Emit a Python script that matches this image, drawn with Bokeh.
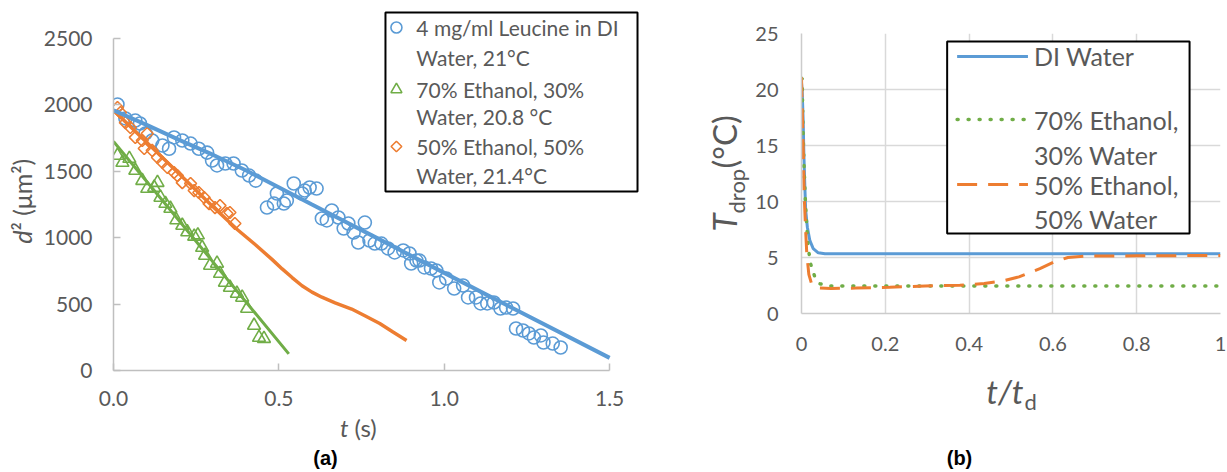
import math
from bokeh.plotting import figure
from bokeh.models import Range1d, FixedTicker, Label, NumeralTickFormatter
from bokeh.layouts import row, column
from bokeh.embed import file_html
from bokeh.resources import INLINE

# ---------------- data: panel (a) ----------------
t_leu = [0.012, 0.036, 0.066, 0.080, 0.097, 0.117, 0.148, 0.168, 0.183, 0.208, 0.233, 0.258,
         0.283, 0.298, 0.313, 0.338, 0.363, 0.388, 0.410, 0.430, 0.464, 0.485, 0.494, 0.515,
         0.524, 0.545, 0.570, 0.578, 0.593, 0.614, 0.630, 0.645, 0.660, 0.680, 0.696, 0.710,
         0.726, 0.740, 0.760, 0.774, 0.790, 0.810, 0.830, 0.850, 0.876, 0.895, 0.900, 0.916,
         0.925, 0.940, 0.960, 0.976, 0.985, 1.006, 1.030, 1.057, 1.072, 1.096, 1.110, 1.130,
         1.150, 1.170, 1.187, 1.208, 1.217, 1.238, 1.256, 1.271, 1.292, 1.300, 1.328, 1.352]
d2_leu = [2003, 1898, 1882, 1860, 1785, 1732, 1694, 1670, 1755, 1732, 1709, 1670,
          1641, 1581, 1544, 1559, 1559, 1506, 1468, 1430, 1227, 1257, 1333, 1257,
          1280, 1408, 1333, 1355, 1378, 1370, 1145, 1130, 1205, 1152, 1069, 1107,
          1039, 964, 1114, 979, 956, 956, 919, 889, 904, 881, 806, 828,
          828, 776, 768, 753, 663, 693, 617, 640, 550, 550, 505, 505,
          512, 467, 474, 467, 316, 301, 279, 248, 264, 211, 203, 173]

t_e70 = [0.012, 0.027, 0.048, 0.066, 0.087, 0.102, 0.123, 0.133, 0.142, 0.157, 0.172, 0.190,
         0.208, 0.223, 0.244, 0.255, 0.268, 0.277, 0.292, 0.313, 0.322, 0.337, 0.352, 0.373,
         0.389, 0.404, 0.425, 0.440, 0.455]
d2_e70 = [1619, 1566, 1596, 1506, 1430, 1370, 1378, 1415, 1303, 1257, 1220, 1133,
          1092, 1043, 1010, 1020, 926, 866, 791, 806, 730, 663, 625, 580,
          550, 467, 339, 248, 240]

t_e50 = [0.012, 0.021, 0.036, 0.051, 0.066, 0.087, 0.093, 0.102, 0.117, 0.133, 0.148, 0.163,
         0.183, 0.193, 0.208, 0.233, 0.244, 0.258, 0.274, 0.289, 0.307, 0.322, 0.343, 0.352,
         0.367]
d2_e50 = [1980, 1943, 1867, 1830, 1755, 1732, 1672, 1785, 1657, 1604, 1566, 1529,
          1491, 1468, 1415, 1408, 1355, 1340, 1303, 1257, 1227, 1242, 1182, 1190,
          1107]

# model curves
tm_leu = [0.0, 0.1, 0.2, 0.3, 0.4, 0.6, 0.8, 1.0, 1.2, 1.5]
dm_leu = [1960, 1850, 1735, 1625, 1508, 1250, 993, 735, 478, 95]
tm_e70 = [0.0, 0.15, 0.3, 0.53]
dm_e70 = [1725, 1275, 820, 125]
tm_e50 = [0.0, 0.1, 0.2, 0.3, 0.375, 0.43, 0.48, 0.51, 0.54, 0.57, 0.60, 0.63, 0.67,
          0.72, 0.76, 0.805, 0.845, 0.886]
dm_e50 = [1960, 1718, 1477, 1235, 1060, 945, 835, 765, 700, 638, 590, 552, 510,
          463, 412, 354, 290, 226]

x_ticks_a = [0, 0.5, 1.0, 1.5]
y_ticks_a = [0, 500, 1000, 1500, 2000, 2500]

leg_a = ["4 mg/ml Leucine in DI", "Water, 21°C",
         "70% Ethanol, 30%", "Water, 20.8 °C",
         "50% Ethanol, 50%", "Water, 21.4°C"]

# ---------------- data: panel (b) ----------------
tb_w = [0.0, 0.0016, 0.004, 0.0056, 0.008, 0.010, 0.014, 0.020, 0.028, 0.040, 0.056, 0.1, 0.3, 0.5, 0.7, 0.9, 1.0]
Tb_w = [20.6, 19.9, 17.2, 14.3, 11.3, 9.2, 7.7, 6.5, 5.8, 5.42, 5.33, 5.33, 5.33, 5.33, 5.33, 5.33, 5.33]
tb_70 = [0.0, 0.0016, 0.0024, 0.004, 0.0064, 0.0095, 0.0127, 0.016, 0.022, 0.032, 0.044, 0.067, 0.2, 0.4, 0.6, 0.8, 1.0]
Tb_70 = [21.0, 21.0, 18.75, 15.7, 12.8, 9.8, 7.7, 5.9, 4.4, 3.24, 2.65, 2.46, 2.46, 2.46, 2.46, 2.46, 2.46]
tb_50 = [0.0, 0.0024, 0.0048, 0.0063, 0.0095, 0.0127, 0.0175, 0.024, 0.036, 0.071, 0.13, 0.21, 0.295,
         0.378, 0.436, 0.478, 0.519, 0.569, 0.602, 0.636, 0.677, 0.8, 1.0]
Tb_50 = [21.1, 17.2, 13.7, 10.7, 7.7, 5.3, 3.5, 2.65, 2.29, 2.24, 2.27, 2.35, 2.45,
         2.53, 2.68, 2.89, 3.27, 4.0, 4.6, 5.0, 5.12, 5.15, 5.18]

x_ticks_b = [0, 0.2, 0.4, 0.6, 0.8, 1]
x_labels_b = ["0", "0.2", "0.4", "0.6", "0.8", "1"]
y_ticks_b = [0, 5, 10, 15, 20, 25]
leg_b = ["DI Water", "70% Ethanol,", "30% Water", "50% Ethanol,", "50% Water"]

BLUE = "#5B9BD5"
ORANGE = "#ED7D31"
GREEN = "#70AD47"
TXT = "#595959"
FONT = "Lato"
MID = 0.387   # distance (in em) from the text baseline to the centre of its box


def strip(ox, oy, w, h):
    """A blank figure whose data coordinates equal page pixel coordinates."""
    f = figure(width=w, height=h, title=None, x_axis_type=None, y_axis_type=None,
               x_range=Range1d(ox, ox + w), y_range=Range1d(oy + h, oy),
               output_backend="svg", toolbar_location=None, min_border=0)
    f.outline_line_color = None
    f.grid.visible = False
    f.frame_align = False
    return f


def lab(fig, x, y, text, size, align="left", baseline="middle", style="normal",
        angle=0.0, font=FONT, color=TXT):
    fig.add_layout(Label(x=x, y=y, text=text, text_font=font, text_font_size="%dpx" % size,
                         text_font_style=style, text_color=color, text_align=align,
                         text_baseline=baseline, angle=angle))


def hlab(fig, x, base_y, text, size, **kw):
    """horizontal text whose baseline sits at base_y"""
    lab(fig, x, base_y - MID * size, text, size, **kw)


def vlab(fig, base_x, y, text, size, **kw):
    """text rotated 90 deg whose baseline sits at base_x"""
    lab(fig, base_x - MID * size, y, text, size, angle=math.pi / 2, **kw)


# ================= panel (a) =================
A_OX = 40
A_W, A_H = 668 - A_OX, 412
A_FL, A_FT, A_FB, A_FR = 111, 10, 370, 641      # frame edges in page px
A_PX = 332.0            # px per second
A_PY = 332.0 / 2500.0   # px per um^2


def ax(ix):
    return (ix - A_FL) / A_PX


def ay(iy):
    return (A_FB - iy) / A_PY


p1 = figure(width=A_W, height=A_H, title=None,
            x_range=Range1d(0, (A_FR - A_FL) / A_PX), y_range=Range1d(0, (A_FB - A_FT) / A_PY),
            output_backend="svg", toolbar_location=None,
            min_border_left=A_FL - A_OX, min_border_right=A_OX + A_W - A_FR,
            min_border_top=A_FT, min_border_bottom=A_H - A_FB)
p1.frame_align = False
p1.outline_line_color = None
p1.grid.visible = False
for a in (p1.xaxis[0], p1.yaxis[0]):
    a.axis_line_color = "#BFBFBF"
    a.axis_line_width = 1.5
    a.major_tick_line_color = "#BFBFBF"
    a.major_tick_line_width = 1.5
    a.major_tick_in = 7
    a.major_tick_out = 0
    a.minor_tick_line_color = None
    a.major_label_text_font = FONT
    a.major_label_text_font_size = "21px"
    a.major_label_text_color = TXT
p1.xaxis.ticker = FixedTicker(ticks=x_ticks_a)
p1.yaxis.ticker = FixedTicker(ticks=y_ticks_a)
p1.xaxis.formatter = NumeralTickFormatter(format="0.0")
p1.xaxis.bounds = (0, 1.5)
p1.yaxis.bounds = (0, 2500)
p1.xaxis.major_label_standoff = 20
p1.yaxis.major_label_standoff = 21

p1.scatter(t_leu, d2_leu, marker="circle", size=13, fill_color=None, line_color=BLUE, line_width=1.6)
p1.scatter(t_e70, d2_e70, marker="triangle", size=13, fill_color=None, line_color=GREEN, line_width=1.6)
p1.scatter(t_e50, d2_e50, marker="square", angle=math.pi / 4, size=8.5, fill_color=None,
           line_color=ORANGE, line_width=1.6)
p1.line(tm_e70, dm_e70, line_color=GREEN, line_width=3)
p1.line(tm_e50, dm_e50, line_color=ORANGE, line_width=3.5)
p1.line(tm_leu, dm_leu, line_color=BLUE, line_width=4)

# legend (a)
p1.quad(left=ax(384), right=ax(637), top=ay(12), bottom=ay(191),
        fill_color="white", line_color="black", line_width=2)
p1.scatter([ax(395)], [ay(27)], marker="circle", size=11, fill_color=None, line_color=BLUE, line_width=1.6)
p1.scatter([ax(395)], [ay(89)], marker="triangle", size=11, fill_color=None, line_color=GREEN, line_width=1.6)
p1.scatter([ax(395)], [ay(146)], marker="square", angle=math.pi / 4, size=7.5, fill_color=None,
           line_color=ORANGE, line_width=1.6)
for txt, iy in zip(leg_a, [27, 57, 89, 116, 146, 175]):
    lab(p1, ax(415), ay(iy), txt, 21)

# side strips for (a)
yA = strip(0, 0, A_OX, A_H)
vlab(yA, 31, 230, "d", 25, align="right", style="italic")
vlab(yA, 31, 230, "² (μm²)", 25, align="left")

xA = strip(0, A_H, 668, 470 - A_H)
hlab(xA, 348, 436, "t", 24, align="right", style="italic")
hlab(xA, 354, 436, "(s)", 24, align="left")
lab(xA, 325, 457, "(a)", 20, align="center", style="bold", font="Liberation Sans", color="black")

# ================= panel (b) =================
B_OX = 752
B_W, B_H = 1227 - B_OX, 360
B_FL, B_FT, B_FB, B_FR = 800, 33, 313, 1220
B_PX = float(B_FR - B_FL)
B_PY = (B_FB - B_FT) / 25.0


def bx(ix):
    return (ix - B_FL) / B_PX


def by(iy):
    return (B_FB - iy) / B_PY


p2 = figure(width=B_W, height=B_H, title=None,
            x_range=Range1d(0, 1), y_range=Range1d(0, 25),
            output_backend="svg", toolbar_location=None,
            min_border_left=B_FL - B_OX, min_border_right=B_OX + B_W - B_FR,
            min_border_top=B_FT, min_border_bottom=B_H - B_FB)
p2.frame_align = False
p2.outline_line_color = None
p2.xaxis.ticker = FixedTicker(ticks=x_ticks_b)
p2.yaxis.ticker = FixedTicker(ticks=y_ticks_b)
p2.xaxis.major_label_overrides = {t: s for t, s in zip(x_ticks_b, x_labels_b)}
p2.xgrid.ticker = FixedTicker(ticks=x_ticks_b)
p2.ygrid.ticker = FixedTicker(ticks=y_ticks_b)
p2.grid.grid_line_color = "#D9D9D9"
p2.grid.grid_line_width = 1.5
for a in (p2.xaxis[0], p2.yaxis[0]):
    a.axis_line_color = "#CCCCCC"
    a.axis_line_width = 1.5
    a.major_tick_in = 0
    a.major_tick_out = 0
    a.minor_tick_line_color = None
    a.major_label_text_font = FONT
    a.major_label_text_font_size = "20px"
    a.major_label_text_color = TXT
p2.xaxis.major_label_standoff = 23
p2.yaxis.major_label_standoff = 23

p2.line(tb_w, Tb_w, line_color=BLUE, line_width=3)
p2.line(tb_70, Tb_70, line_color=GREEN, line_width=3.5, line_dash="1 10", line_cap="round")
p2.line(tb_50, Tb_50, line_color=ORANGE, line_width=3, line_dash="20 11")

# legend (b)
p2.quad(left=bx(946), right=bx(1189), top=by(41), bottom=by(233),
        fill_color="white", line_color="black", line_width=2)
p2.line([bx(956), bx(1027)], [by(56), by(56)], line_color=BLUE, line_width=3)
p2.line([bx(956), bx(1027)], [by(119), by(119)], line_color=GREEN, line_width=3.5,
        line_dash="1 10", line_cap="round")
p2.line([bx(956), bx(1027)], [by(184), by(184)], line_color=ORANGE, line_width=3, line_dash="20 11")
for txt, iy in zip(leg_b, [55, 119, 154, 184, 218]):
    lab(p2, bx(1033), by(iy), txt, 25)

# side strips for (b)
yB = strip(668, 0, B_OX - 668, B_H)
vlab(yB, 736, 213, "T", 33, align="right", style="italic")
vlab(yB, 745, 213, "drop", 22, align="left")
vlab(yB, 736, 168, "(°C)", 33, align="left")

xB = strip(668, B_H, 1227 - 668, 470 - B_H)
hlab(xB, 1023, 403, "t/t", 33, align="right", style="italic")
hlab(xB, 1024, 410, "d", 22, align="left")
lab(xB, 959, 457, "(b)", 20, align="center", style="bold", font="Liberation Sans", color="black")

layout = row(column(row(yA, p1), xA), column(row(yB, p2), xB))
open("out.html", "w").write(file_html(layout, INLINE))
